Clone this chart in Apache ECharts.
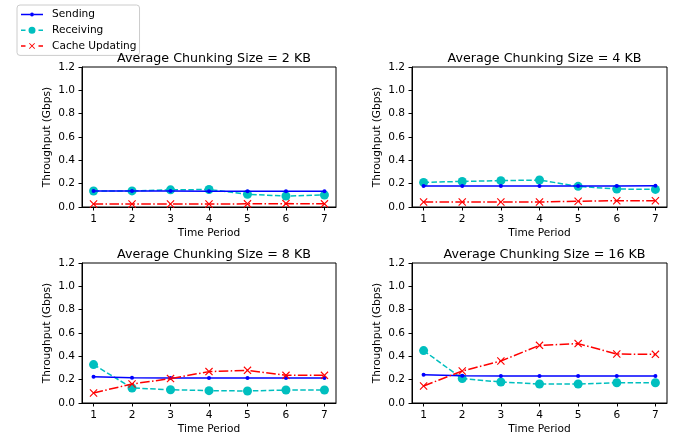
<!DOCTYPE html>
<html>
<head>
<meta charset="utf-8">
<script src="https://cdn.jsdelivr.net/npm/echarts@6/dist/echarts.min.js"></script>
<style>
  html, body { margin: 0; padding: 0; background: #fff; }
  #chart { width: 682px; height: 440px; }
</style>
</head>
<body>
<div id="chart"></div>
<script>
// time periods on the x axis
var periods = [1, 2, 3, 4, 5, 6, 7];
var sizes = ['2 KB', '4 KB', '8 KB', '16 KB'];

// throughput (Gbps)
var sending2 = [0.137, 0.138, 0.137, 0.136, 0.135, 0.134, 0.135];
var receiving2 = [0.137, 0.138, 0.147, 0.150, 0.109, 0.094, 0.103];
var cache2 = [0.026, 0.026, 0.026, 0.026, 0.027, 0.029, 0.027];

var sending4 = [0.180, 0.181, 0.181, 0.181, 0.180, 0.180, 0.182];
var receiving4 = [0.211, 0.219, 0.226, 0.231, 0.177, 0.154, 0.151];
var cache4 = [0.043, 0.043, 0.043, 0.043, 0.049, 0.054, 0.054];

var sending8 = [0.226, 0.217, 0.214, 0.214, 0.214, 0.214, 0.214];
var receiving8 = [0.329, 0.129, 0.114, 0.106, 0.103, 0.111, 0.111];
var cache8 = [0.086, 0.163, 0.209, 0.269, 0.280, 0.237, 0.237];

var sending16 = [0.243, 0.234, 0.232, 0.231, 0.231, 0.232, 0.232];
var receiving16 = [0.449, 0.209, 0.180, 0.163, 0.163, 0.174, 0.174];
var cache16 = [0.146, 0.274, 0.360, 0.494, 0.509, 0.420, 0.417];

var sendingAll = [sending2, sending4, sending8, sending16];
var receivingAll = [receiving2, receiving4, receiving8, receiving16];
var cacheAll = [cache2, cache4, cache8, cache16];

var grids = [
  {left: 82, top: 67, width: 254, height: 140},
  {left: 412, top: 67, width: 255, height: 140},
  {left: 82, top: 263, width: 254, height: 140},
  {left: 412, top: 263, width: 255, height: 140}
];

var font = 'DejaVu Sans';
var crossPath = 'path://M0,1L1,0L5,4L9,0L10,1L6,5L10,9L9,10L5,6L1,10L0,9L4,5Z';

// legend handles drawn like matplotlib's: line + marker
var iconSending = 'path://M0,2.25H9V3.75H0Z M13,2.25H22V3.75H13Z M9,3A2,2 0 1,1 13,3A2,2 0 1,1 9,3Z';
var iconReceiving = 'path://M0,2.75H4.5V4.25H0Z M17.5,2.75H22V4.25H17.5Z M7.5,3.5A3.5,3.5 0 1,1 14.5,3.5A3.5,3.5 0 1,1 7.5,3.5Z';
var iconCache = 'path://M0,2.25H4.5V3.75H0Z M17.5,2.25H22V3.75H17.5Z M8,0.6L8.6,0L11,2.4L13.4,0L14,0.6L11.6,3L14,5.4L13.4,6L11,3.6L8.6,6L8,5.4L10.4,3Z';

function pairs(ys) {
  return periods.map(function (p, i) { return [p, ys[i]]; });
}

var titles = [], xAxes = [], yAxes = [], series = [];
grids.forEach(function (g, i) {
  g.show = true;
  g.borderColor = '#000';
  g.borderWidth = 1;
  titles.push({
    text: 'Average Chunking Size = ' + sizes[i],
    left: g.left + g.width / 2,
    top: g.top - 20,
    textAlign: 'center',
    textStyle: {fontFamily: font, fontSize: 12.7, fontWeight: 'normal', color: '#000'}
  });
  xAxes.push({
    gridIndex: i, type: 'value', min: 0.7, max: 7.3,
    name: 'Time Period', nameLocation: 'middle', nameGap: 21,
    nameTextStyle: {fontFamily: font, fontSize: 10.6, color: '#000'},
    axisLine: {lineStyle: {color: '#000'}},
    axisTick: {customValues: periods, length: 3.5, lineStyle: {color: '#000'}},
    axisLabel: {customValues: periods, fontFamily: font, fontSize: 10.6, color: '#000', margin: 6.5},
    splitLine: {show: false}
  });
  yAxes.push({
    gridIndex: i, type: 'value', min: 0, max: 1.2, interval: 0.2,
    name: 'Throughput (Gbps)', nameLocation: 'middle', nameGap: 29,
    nameTextStyle: {fontFamily: font, fontSize: 10.6, color: '#000'},
    axisLine: {show: true, lineStyle: {color: '#000'}},
    axisTick: {show: true, length: 3.5, lineStyle: {color: '#000'}},
    axisLabel: {fontFamily: font, fontSize: 10.6, color: '#000', margin: 7,
      formatter: function (v) { return v.toFixed(1); }},
    splitLine: {show: false}
  });
  series.push({
    name: 'Sending', type: 'line', xAxisIndex: i, yAxisIndex: i,
    data: pairs(sendingAll[i]), symbol: 'circle', symbolSize: 4,
    lineStyle: {color: '#0000ff', width: 1.5},
    itemStyle: {color: '#0000ff'}, animation: false, z: 3
  });
  series.push({
    name: 'Receiving', type: 'line', xAxisIndex: i, yAxisIndex: i,
    data: pairs(receivingAll[i]), symbol: 'circle', symbolSize: 9,
    lineStyle: {color: '#00bfbf', width: 1.5, type: [5.5, 2.4]},
    itemStyle: {color: '#00bfbf'}, animation: false, z: 2
  });
  series.push({
    name: 'Cache Updating', type: 'line', xAxisIndex: i, yAxisIndex: i,
    data: pairs(cacheAll[i]), symbol: crossPath, symbolSize: 8,
    lineStyle: {color: '#ff0000', width: 1.5, type: [9.6, 2.4, 1.5, 2.4]},
    itemStyle: {color: '#ff0000'}, animation: false, z: 4
  });
});

var chart = echarts.init(document.getElementById('chart'));
chart.setOption({
  backgroundColor: '#fff',
  animation: false,
  title: titles,
  legend: {
    data: [
      {name: 'Sending', icon: iconSending},
      {name: 'Receiving', icon: iconReceiving},
      {name: 'Cache Updating', icon: iconCache}
    ],
    orient: 'vertical', left: 17, top: 5,
    itemWidth: 22, itemHeight: 10, itemGap: 4.7,
    padding: [4, 3, 4, 4],
    borderColor: '#ccc', borderWidth: 1, borderRadius: 3,
    textStyle: {fontFamily: font, fontSize: 10.6, color: '#000', padding: [0, 0, 0, 4]}
  },
  grid: grids,
  xAxis: xAxes,
  yAxis: yAxes,
  series: series
});
</script>
</body>
</html>
